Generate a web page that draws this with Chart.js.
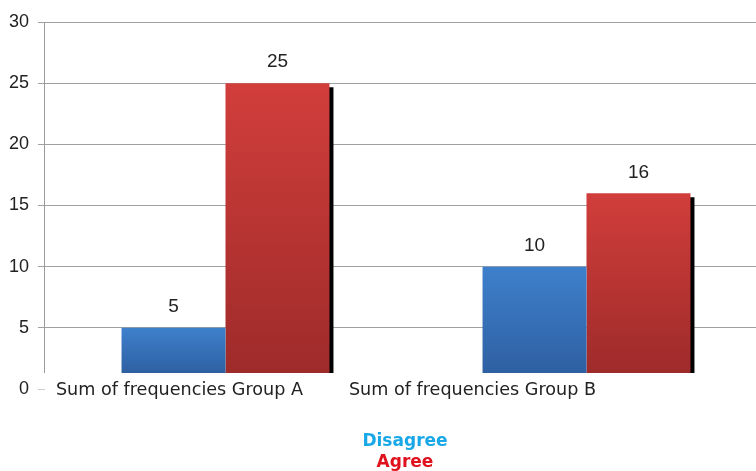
<!DOCTYPE html>
<html>
<head>
<meta charset="utf-8">
<script src="https://cdn.jsdelivr.net/npm/chart.js@4/dist/chart.umd.min.js"></script>
<style>
  html, body { margin: 0; padding: 0; background: #ffffff; overflow: hidden; }
  #wrap { position: relative; width: 767px; height: 471px; }
  canvas { display: block; }
</style>
</head>
<body>
<div id="wrap"><canvas id="chart" width="767" height="471"></canvas></div>
<script>
// ---- data ----
const categories = ['Sum of frequencies Group A', 'Sum of frequencies Group B'];
const seriesNames = ['Disagree', 'Agree'];
const disagreeValues = [5, 10];
const agreeValues = [25, 16];
const yTickValues = [0, 5, 10, 15, 20, 25, 30];

// ---- styling ----
const blueTop = '#3e80cc', blueBottom = '#2e60a2';
const redTop = '#d13e3b', redBottom = '#9e2b2a';
const legendColors = ['#18a8e8', '#e0121d'];
const textFont = '"DejaVu Sans", "Noto Sans", sans-serif';
const numberFont = '"Liberation Sans", Arial, sans-serif';
const baseClip = 16;                 // bars stop a little above the zero line
const catLabelNudge = [-46, -114];   // horizontal shift of each category caption

function barGradient(c, top, bottom) {
  const chart = c.chart;
  const area = chart.chartArea;
  if (!area || c.type !== 'data' || !c.parsed) return top;
  const yScale = chart.scales.y;
  const yTop = yScale.getPixelForValue(c.parsed.y);
  const yBot = area.bottom - baseClip;
  const g = chart.ctx.createLinearGradient(0, yTop, 0, yBot);
  g.addColorStop(0, top);
  g.addColorStop(1, bottom);
  return g;
}

const decor = {
  id: 'decor',
  beforeDatasetsDraw(chart) {
    const { ctx, chartArea } = chart;
    ctx.save();
    ctx.beginPath();
    ctx.rect(chartArea.left, 0, chartArea.right - chartArea.left + 20, chartArea.bottom - baseClip);
    ctx.clip();
  },
  beforeDatasetDraw(chart, args) {
    if (args.index === 1) {
      const ctx = chart.ctx;
      ctx.save();
      ctx.shadowColor = '#000000';
      ctx.shadowOffsetX = 4;
      ctx.shadowOffsetY = 4;
      ctx.shadowBlur = 0;
    }
  },
  afterDatasetDraw(chart, args) {
    if (args.index === 1) chart.ctx.restore();
  },
  afterDatasetsDraw(chart) {
    const { ctx, chartArea } = chart;
    ctx.restore();

    // vertical axis line
    ctx.save();
    ctx.strokeStyle = '#9a9a9a';
    ctx.lineWidth = 1;
    ctx.beginPath();
    ctx.moveTo(chartArea.left - 0.5, chartArea.top);
    ctx.lineTo(chartArea.left - 0.5, chartArea.bottom - baseClip);
    ctx.stroke();

    // value labels above bars
    ctx.fillStyle = '#222222';
    ctx.font = '19px ' + numberFont;
    ctx.textAlign = 'center';
    ctx.textBaseline = 'middle';
    chart.data.datasets.forEach((ds, di) => {
      chart.getDatasetMeta(di).data.forEach((el, i) => {
        ctx.fillText(String(ds.data[i]), el.x, el.y - 21);
      });
    });

    // category captions
    const xScale = chart.scales.x;
    ctx.font = '17.6px ' + textFont;
    categories.forEach((label, i) => {
      ctx.fillText(label, xScale.getPixelForValue(i) + catLabelNudge[i], chartArea.bottom + 1);
    });

    // legend, stacked
    ctx.font = 'bold 17px ' + textFont;
    const cx = 405;
    chart.data.datasets.forEach((ds, di) => {
      ctx.fillStyle = legendColors[di];
      ctx.fillText(ds.label, cx, 442 + di * 21);
    });
    ctx.restore();
  }
};

new Chart(document.getElementById('chart'), {
  type: 'bar',
  data: {
    labels: categories,
    datasets: [
      {
        label: seriesNames[0],
        data: disagreeValues,
        backgroundColor: (c) => barGradient(c, blueTop, blueBottom),
        borderWidth: 0
      },
      {
        label: seriesNames[1],
        data: agreeValues,
        backgroundColor: (c) => barGradient(c, redTop, redBottom),
        borderWidth: 0
      }
    ]
  },
  options: {
    responsive: false,
    animation: false,
    devicePixelRatio: 1,
    maintainAspectRatio: false,
    categoryPercentage: 0.576,
    barPercentage: 1.0,
    layout: { padding: { top: 22, bottom: 82, left: 0, right: 0 } },
    plugins: {
      legend: { display: false },
      tooltip: { enabled: false }
    },
    scales: {
      x: {
        display: false
      },
      y: {
        min: 0,
        max: 30,
        afterBuildTicks: (scale) => { scale.ticks = yTickValues.map(v => ({ value: v })); },
        afterFit: (scale) => { scale.width = 45; },
        border: { display: false },
        grid: {
          color: (c) => (c.tick && c.tick.value === 0) ? 'rgba(0,0,0,0)' : '#a0a0a0',
          tickColor: (c) => (c.tick && c.tick.value === 0) ? '#cccccc' : '#a0a0a0',
          tickLength: 7,
          lineWidth: 1
        },
        ticks: {
          padding: 9,
          color: '#222222',
          font: { family: '"Liberation Sans", Arial, sans-serif', size: 18 }
        }
      }
    }
  },
  plugins: [decor]
});
</script>
</body>
</html>
